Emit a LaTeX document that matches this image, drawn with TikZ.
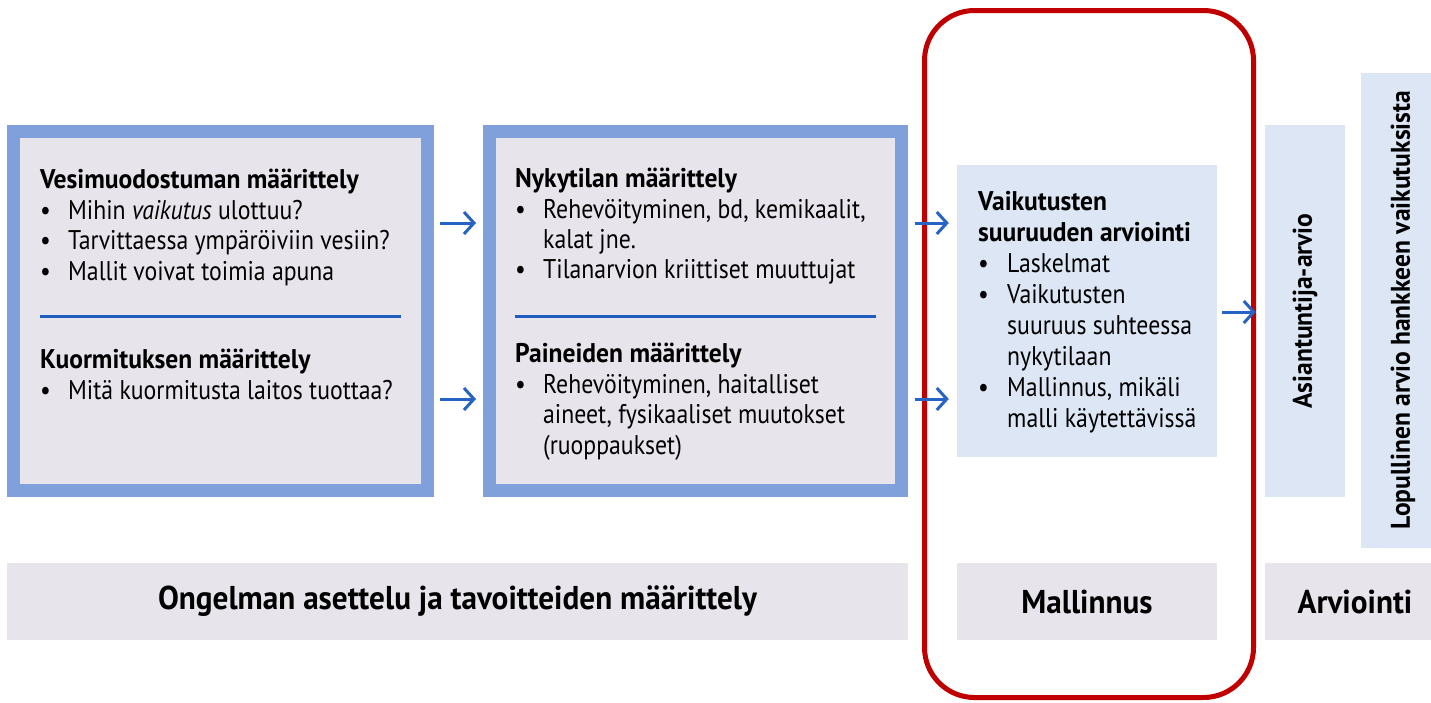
\documentclass[tikz,border=0pt]{standalone}
\usepackage{fontspec}
\setmainfont{PT Sans}
\newfontfamily\cond{PT Sans}[FakeStretch=0.88]
\newfontfamily\condb{PT Sans Bold}[FakeStretch=0.946]
\usetikzlibrary{arrows.meta}
\definecolor{boxfill}{HTML}{E7E4EC}
\definecolor{boxborder}{HTML}{7FA0DA}
\definecolor{sepblue}{HTML}{1F5CBF}
\definecolor{arrblue}{HTML}{2563C4}
\definecolor{lightblue}{HTML}{DDE6F4}
\definecolor{redframe}{HTML}{C00000}
\tikzset{
  bigbox/.style={draw=boxborder, line width=13pt, fill=boxfill, inner sep=0pt},
  flatbox/.style={fill=#1, inner sep=0pt, draw=none},
  ln/.style={anchor=base west, inner sep=0pt, font=\cond\fontsize{27}{30}\selectfont},
  hd/.style={anchor=base west, inner sep=0pt, font=\condb\fontsize{27}{30}\selectfont},
  sep/.style={draw=sepblue, line width=3pt},
  arr/.style={draw=arrblue, line width=3pt, -{Straight Barb[length=10pt,width=22pt,line width=3pt]}},
  bartext/.style={inner sep=0pt, font=\condb\fontsize{33}{36}\selectfont},
  vtext/.style={inner sep=0pt, rotate=90, font=\condb\fontsize{27}{30}\selectfont}
}
\newcommand{\bul}[1][28pt]{\makebox[#1][l]{\textbullet}}
\begin{document}
\begin{tikzpicture}[x=1pt,y=-1pt]
\useasboundingbox (0,0) rectangle (1431,702);
% main boxes
\node[bigbox, minimum width=414pt, minimum height=359pt] (b1) at (220.5,311) {};
\node[bigbox, minimum width=412pt, minimum height=359pt] (b2) at (695.5,311) {};
\node[flatbox=lightblue, minimum width=260pt, minimum height=292pt] (bm) at (1087,311) {};
\node[flatbox=lightblue, minimum width=80pt, minimum height=372pt] (ba) at (1305,311) {};
\node[flatbox=lightblue, minimum width=84pt, minimum height=475pt] (bl) at (1403,310.5) {};
% bottom bars
\node[flatbox=boxfill, minimum width=901pt, minimum height=77pt] (r1) at (457.5,601.5) {};
\node[flatbox=boxfill, minimum width=260pt, minimum height=77pt] (r2) at (1087,601.5) {};
\node[flatbox=boxfill, minimum width=180pt, minimum height=77pt] (r3) at (1355,601.5) {};
\node[bartext] (r1t) at (r1) {Ongelman asettelu ja tavoitteiden määrittely};
\node[bartext] (r2t) at (r2) {Mallinnus};
\node[bartext] (r3t) at (r3) {Arviointi};
% box 1 text
\node[hd] (h1) at (40,188) {Vesimuodostuman määrittely};
\node[ln] (l11) at (40,219) {\bul Mihin \textit{vaikutus} ulottuu?};
\node[ln] (l12) at (40,249) {\bul Tarvittaessa ympäröiviin vesiin?};
\node[ln] (l13) at (40,280) {\bul Mallit voivat toimia apuna};
\draw[sep] (40,316) -- (401,316);
\node[hd] (h2) at (40,368) {Kuormituksen määrittely};
\node[ln] (l21) at (40,399) {\bul Mitä kuormitusta laitos tuottaa?};
% box 2 text
\node[hd] (h3) at (515,187) {Nykytilan määrittely};
\node[ln] (l31) at (515,218) {\bul Rehevöityminen, bd, kemikaalit,};
\node[ln] (l32) at (515,248) {\hspace*{28pt}kalat jne.};
\node[ln] (l33) at (515,278) {\bul Tilanarvion kriittiset muuttujat};
\draw[sep] (515,316) -- (876,316);
\node[hd] (h4) at (515,362) {Paineiden määrittely};
\node[ln] (l41) at (515,393) {\bul Rehevöityminen, haitalliset};
\node[ln] (l42) at (515,423) {\hspace*{28pt}aineet, fysikaaliset muutokset};
\node[ln] (l43) at (515,454) {\hspace*{28pt}(ruoppaukset)};
% mallinnus text
\node[hd] (m1) at (978,210) {Vaikutusten};
\node[hd] (m2) at (978,241) {suuruuden arviointi};
\node[ln] (m3) at (978,272) {\bul[29pt]Laskelmat};
\node[ln] (m4) at (978,303) {\bul[29pt]Vaikutusten};
\node[ln] (m5) at (978,334) {\hspace*{29pt}suuruus suhteessa};
\node[ln] (m6) at (978,365) {\hspace*{29pt}nykytilaan};
\node[ln] (m7) at (978,396) {\bul[29pt]Mallinnus, mikäli};
\node[ln] (m8) at (978,427) {\hspace*{29pt}malli käytettävissä};
% vertical texts
\node[vtext] (va) at (1305,311) {Asiantuntija-arvio};
\node[vtext] (vl) at (1403,310) {Lopullinen arvio hankkeen vaikutuksista};
% red frame
\draw[redframe, line width=5pt, rounded corners=50pt] (924.5,10.5) rectangle (1253.5,697.5);
% arrows
\coordinate (y1) at (0,223);
\coordinate (y2) at (0,399);
\coordinate (y3) at (0,312);
\draw[arr, shorten <=6pt, shorten >=7pt] (b1.east |- y1) -- (b2.west |- y1);
\draw[arr, shorten <=6pt, shorten >=7pt] (b1.east |- y2) -- (b2.west |- y2);
\draw[arr, shorten <=7pt, shorten >=8pt] (b2.east |- y1) -- (bm.west |- y1);
\draw[arr, shorten <=7pt, shorten >=8pt] (b2.east |- y2) -- (bm.west |- y2);
\draw[arr, shorten <=5pt, shorten >=9pt] (bm.east |- y3) -- (ba.west |- y3);
\end{tikzpicture}
\end{document}
